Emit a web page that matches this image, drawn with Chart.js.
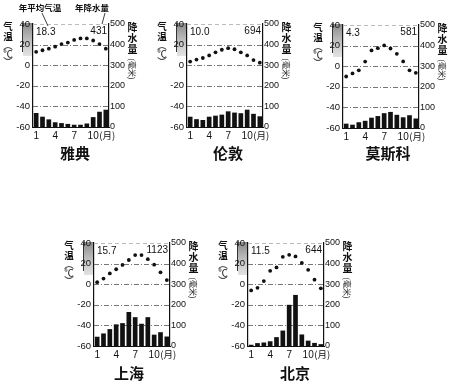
<!DOCTYPE html>
<html>
<head>
<meta charset="utf-8">
<script src="https://cdn.jsdelivr.net/npm/chart.js@4.4.1/dist/chart.umd.min.js"></script>
<style>
  html, body { margin: 0; padding: 0; background: #fff; }
  body { width: 473px; height: 389px; position: relative; overflow: hidden; }
  .box { position: absolute; width: 150px; height: 162px; }
  .city { position: absolute; width: 80px; text-align: center; color: #111;
          font: bold 15px "Noto Sans CJK SC", sans-serif; line-height: 16px; }
</style>
</head>
<body>

<div class="box" style="left:1px;top:0px"><canvas id="c-athens"></canvas></div>
<div class="box" style="left:155px;top:0px"><canvas id="c-london"></canvas></div>
<div class="box" style="left:311px;top:1px"><canvas id="c-moscow"></canvas></div>
<div class="box" style="left:62px;top:219px"><canvas id="c-shanghai"></canvas></div>
<div class="box" style="left:216px;top:219px"><canvas id="c-beijing"></canvas></div>

<div class="city" style="left:35px;top:145px">雅典</div>
<div class="city" style="left:188px;top:145px">伦敦</div>
<div class="city" style="left:348px;top:145px">莫斯科</div>
<div class="city" style="left:89px;top:365px">上海</div>
<div class="city" style="left:255px;top:365px">北京</div>

<script>
// ---- data ----------------------------------------------------------
const months = ['1', '2', '3', '4', '5', '6', '7', '8', '9', '10', '11', '12'];
const shownMonths = ['1', '4', '7', '10'];

const athensTemp   = [13, 14.5, 16, 18, 20.5, 22, 24.5, 26, 26, 24, 20.5, 16];
const athensRain   = [68, 50, 37, 23, 19, 15, 11, 11, 17, 48, 74, 84];
const londonTemp   = [3.5, 5.5, 7, 9.5, 12.5, 15, 16.5, 15.5, 12.5, 9.5, 5, 2.5];
const londonRain   = [50, 38, 34, 50, 55, 60, 76, 70, 67, 84, 64, 52];
const moscowTemp   = [-10, -7, -4, 4.5, 15.3, 17.5, 20.2, 17.2, 12, 4.6, -4, -6.4];
const moscowRain   = [21, 16, 28, 35, 50, 58, 72, 78, 64, 52, 62, 46];
const shanghaiTemp = [2, 5.5, 10.5, 14.5, 18.7, 23.5, 28.3, 28.3, 24.3, 19, 11.5, 4];
const shanghaiRain = [45, 61, 82, 105, 111, 165, 140, 108, 140, 55, 67, 46];
const beijingTemp  = [-6, -3.5, 3, 13, 16.3, 26.6, 28.5, 27, 20.7, 14, 4.4, -4];
const beijingRain  = [6, 14, 17, 23, 43, 75, 200, 248, 56, 26, 15, 9];

const annualTemp = ['18.3', '10.0', '4.3', '15.7', '11.5'];
const annualRain = ['431', '694', '581', '1123', '644'];

const tempMin = -60, tempMax = 40, tempStep = 20;
const rainMin = 0, rainMax = 500, rainStep = 100;
const tempGrid = [-40, -20, 0, 20];

// ---- drawing -------------------------------------------------------
const INK = '#111';
const NUM_FONT = '"Liberation Sans", Arial, sans-serif';
const CJK_FONT = '"Noto Sans CJK SC", sans-serif';

// fixed plot geometry inside each canvas
const LEFT_W = 32, RIGHT_W = 42, TOP_PAD = 24, X_H = 35;

const decor = {
  id: 'decor',
  beforeDraw(chart) {
    const { ctx, chartArea: a } = chart;
    // stippled gray strip beside the top of the temperature axis
    ctx.save();
    const g = ctx.createLinearGradient(0, a.top, 0, a.top + 32);
    g.addColorStop(0, 'rgba(90,90,90,0.7)');
    g.addColorStop(1, 'rgba(160,160,160,0.3)');
    ctx.fillStyle = g;
    ctx.fillRect(a.left - 10, a.top - 1, 9, 33);
    ctx.strokeStyle = '#333';
    ctx.lineWidth = 1;
    ctx.beginPath();
    ctx.moveTo(a.left - 10.5, a.top - 1);
    ctx.lineTo(a.left - 10.5, a.top + 28);
    ctx.stroke();
    ctx.restore();
  },
  beforeDatasetsDraw(chart) {
    const { ctx, chartArea: a, scales } = chart;
    ctx.save();
    ctx.lineWidth = 1;
    // dashed reference lines
    ctx.strokeStyle = '#777';
    ctx.setLineDash([5, 2, 1, 2]);
    tempGrid.forEach(v => {
      const y = Math.round(scales.y.getPixelForValue(v)) + 0.5;
      ctx.beginPath(); ctx.moveTo(a.left, y); ctx.lineTo(a.right, y); ctx.stroke();
    });
    ctx.strokeStyle = '#bbb';
    ctx.setLineDash([4, 3]);
    const yt = Math.round(scales.y.getPixelForValue(tempMax)) + 0.5;
    ctx.beginPath(); ctx.moveTo(a.left, yt); ctx.lineTo(a.right, yt); ctx.stroke();
    ctx.restore();
  },
  afterDraw(chart, args, opts) {
    const { ctx, chartArea: a, scales } = chart;
    ctx.save();
    ctx.fillStyle = INK;
    ctx.textAlign = 'center';
    ctx.textBaseline = 'middle';

    // left title: 气温(℃)
    const lx = a.left - 25;
    ctx.font = 'bold 9.5px ' + CJK_FONT;
    ctx.fillText('气', lx, a.top + 2);
    ctx.fillText('温', lx, a.top + 12);
    ctx.font = '9.5px ' + CJK_FONT;
    ctx.fillText('︵', lx, a.top + 21);
    ctx.fillText('℃', lx, a.top + 29);
    ctx.fillText('︶', lx, a.top + 37);

    // right title: 降水量(毫米)
    const rx = a.right + 23.5;
    ctx.font = 'bold 10px ' + CJK_FONT;
    ctx.fillText('降', rx, a.top + 3);
    ctx.fillText('水', rx, a.top + 14);
    ctx.fillText('量', rx, a.top + 25);
    ctx.save();
    ctx.translate(rx, a.top + 45);
    ctx.rotate(Math.PI / 2);
    ctx.font = '8px ' + CJK_FONT;
    ctx.fillText('(毫米)', 0, 0);
    ctx.restore();

    // annual values
    ctx.font = '10px ' + NUM_FONT;
    ctx.textAlign = 'left';
    ctx.fillText(opts.t, a.left + 3, a.top + 8);
    ctx.textAlign = 'right';
    ctx.fillText(opts.r, a.right - 2, a.top + 7);

    // month unit after "10"
    ctx.textAlign = 'left';
    ctx.font = '9.5px ' + CJK_FONT;
    const x10 = scales.x.getPixelForValue(9);
    ctx.fillText('(月)', x10 + 6, a.bottom + 8);

    // callouts (first chart only)
    if (opts.callout) {
      ctx.font = 'bold 8.5px ' + CJK_FONT;
      ctx.textAlign = 'center';
      ctx.fillText('年平均气温', 39, 8);
      ctx.fillText('年降水量', 91, 8);
      ctx.strokeStyle = INK;
      ctx.lineWidth = 0.8;
      ctx.beginPath();
      ctx.moveTo(41, 13); ctx.lineTo(47, 26);
      ctx.moveTo(104, 13); ctx.lineTo(101, 24);
      ctx.stroke();
    }
    ctx.restore();
  }
};

function makeClimate(id, temp, rain, idx, callout) {
  const el = document.getElementById(id);
  return new Chart(el, {
    type: 'bar',
    data: {
      labels: months,
      datasets: [
        {
          type: 'line',
          data: temp,
          yAxisID: 'y',
          showLine: false,
          pointRadius: 1.9,
          pointBackgroundColor: INK,
          pointBorderWidth: 0,
          order: 0,
        },
        {
          type: 'bar',
          data: rain,
          yAxisID: 'y1',
          backgroundColor: INK,
          barPercentage: 0.74,
          categoryPercentage: 1,
          order: 1,
        },
      ],
    },
    options: {
      responsive: false,
      animation: false,
      events: [],
      layout: { padding: { top: TOP_PAD, left: 0, right: 0, bottom: 0 } },
      plugins: {
        legend: { display: false },
        tooltip: { enabled: false },
        decor: { t: annualTemp[idx], r: annualRain[idx], callout },
      },
      scales: {
        x: {
          grid: { display: false, drawTicks: false, tickLength: 0 },
          border: { display: true, color: INK, width: 1 },
          ticks: {
            color: INK, padding: 3, autoSkip: false, maxRotation: 0,
            font: { size: 10, family: NUM_FONT },
            callback: (v, i) => shownMonths.includes(months[i]) ? months[i] : '',
          },
          afterFit: s => { s.height = X_H; },
        },
        y: {
          position: 'left',
          min: tempMin, max: tempMax,
          grid: { display: false, drawTicks: false, tickLength: 0 },
          border: { display: true, color: INK, width: 1.2 },
          ticks: {
            stepSize: tempStep, color: INK, padding: 3,
            font: { size: 9.5, family: NUM_FONT },
          },
          afterFit: s => { s.width = LEFT_W; },
        },
        y1: {
          position: 'right',
          min: rainMin, max: rainMax,
          grid: { display: false, drawTicks: false, tickLength: 0 },
          border: { display: true, color: INK, width: 1.2 },
          ticks: {
            stepSize: rainStep, color: INK, padding: 1,
            font: { size: 9, family: NUM_FONT },
          },
          afterFit: s => { s.width = RIGHT_W; },
        },
      },
    },
    plugins: [decor],
  });
}

[
  ['c-athens', athensTemp, athensRain],
  ['c-london', londonTemp, londonRain],
  ['c-moscow', moscowTemp, moscowRain],
  ['c-shanghai', shanghaiTemp, shanghaiRain],
  ['c-beijing', beijingTemp, beijingRain],
].forEach(([id, t, r], i) => {
  const c = document.getElementById(id);
  c.width = 150; c.height = 162;
  c.style.width = '150px'; c.style.height = '162px';
  makeClimate(id, t, r, i, i === 0);
});
</script>
</body>
</html>
